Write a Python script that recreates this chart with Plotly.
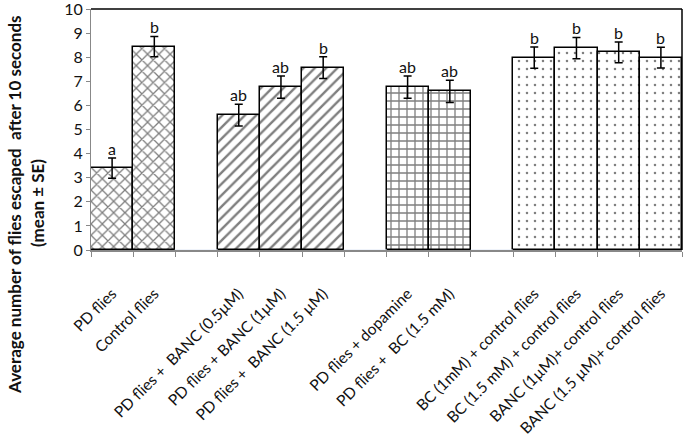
import plotly.graph_objects as go

categories = ["PD flies", "Control flies", "gap1",
              "PD flies +  BANC (0.5µM)", "PD flies + BANC (1µM)", "PD flies +  BANC (1.5 µM)", "gap2",
              "PD flies + dopamine", "PD flies +  BC (1.5 mM)", "gap3",
              "BC (1mM) + control flies", "BC (1.5 mM) + control flies",
              "BANC (1µM)+ control flies", "BANC (1.5 µM)+ control flies"]
tick_labels = ["PD flies", "Control flies", "",
               "PD flies +  BANC (0.5µM)", "PD flies + BANC (1µM)", "PD flies +  BANC (1.5 µM)", "",
               "PD flies + dopamine", "PD flies +  BC (1.5 mM)", "",
               "BC (1mM) + control flies", "BC (1.5 mM) + control flies",
               "BANC (1µM)+ control flies", "BANC (1.5 µM)+ control flies"]

groups = [
    (["PD flies", "Control flies"], [3.4, 8.44], [0.42, 0.42], ["a", "b"], "x"),
    (["PD flies +  BANC (0.5µM)", "PD flies + BANC (1µM)", "PD flies +  BANC (1.5 µM)"],
     [5.6, 6.76, 7.57], [0.45, 0.46, 0.45], ["ab", "ab", "b"], "/"),
    (["PD flies + dopamine", "PD flies +  BC (1.5 mM)"], [6.76, 6.58], [0.46, 0.46], ["ab", "ab"], "+"),
    (["BC (1mM) + control flies", "BC (1.5 mM) + control flies",
      "BANC (1µM)+ control flies", "BANC (1.5 µM)+ control flies"],
     [7.98, 8.38, 8.2, 7.98], [0.44, 0.44, 0.43, 0.43], ["b", "b", "b", "b"], "."),
]

FONT = "Lato"
fig = go.Figure()
for cats, vals, errs, letters, shape in groups:
    fig.add_trace(go.Bar(
        x=cats, y=vals,
        error_y=dict(type="data", array=errs, color="black", thickness=1.5, width=4),
        marker=dict(color="white", line=dict(color="black", width=1.5),
                    pattern=dict(shape=shape, fgcolor="black", bgcolor="white",
                                 size=8 if shape != "." else 8,
                                 solidity=0.3 if shape != "." else 0.08)),
        showlegend=False, hoverinfo="skip",
    ))
    for c, v, e, t in zip(cats, vals, errs, letters):
        fig.add_annotation(x=c, y=v + e, text=t, showarrow=False, yanchor="bottom",
                           yshift=-2, font=dict(family=FONT, size=16, color="#111"))

# ensure gap slots exist
fig.add_trace(go.Bar(x=["gap1", "gap2", "gap3"], y=[0, 0, 0], showlegend=False,
                     marker=dict(color="rgba(0,0,0,0)"), hoverinfo="skip"))

fig.update_layout(
    width=683, height=436,
    margin=dict(l=91, r=1, t=9, b=186),
    paper_bgcolor="white", plot_bgcolor="white",
    bargap=0, barmode="overlay",
    font=dict(family=FONT, color="#111"),
    xaxis=dict(type="category", categoryorder="array", categoryarray=categories,
               tickmode="array", tickvals=categories, ticktext=tick_labels,
               tickangle=-45, tickson="boundaries", ticks="outside", ticklen=5,
               tickcolor="#888", showline=True, linecolor="#888", linewidth=1.5,
               ticklabelstandoff=27, automargin=False,
               tickfont=dict(family=FONT, size=15.5, color="#111"), showgrid=False),
    yaxis=dict(range=[0, 10], dtick=1, showgrid=False, showline=True, linecolor="#888",
               linewidth=1, ticks="outside", ticklen=4, tickcolor="#888", automargin=False,
               ticklabeloverflow="allow",
               tickfont=dict(family=FONT, size=16, color="#111"), zeroline=False),
)

# frame: top and right borders
fig.add_shape(type="line", xref="paper", yref="paper", x0=0, x1=1, y0=1, y1=1,
              line=dict(color="black", width=1.5))
fig.add_shape(type="line", xref="paper", yref="paper", x0=1, x1=1, y0=0, y1=1,
              line=dict(color="black", width=1.5))

fig.add_annotation(text="Average number of flies escaped  after 10 seconds", xref="paper", yref="paper",
                   x=-0.1286, y=0.187, textangle=-90, showarrow=False, xanchor="center", yanchor="middle",
                   font=dict(family=FONT, size=17, color="#111", weight="bold"))
fig.add_annotation(text="(mean ± SE)", xref="paper", yref="paper",
                   x=-0.0914, y=0.195, textangle=-90, showarrow=False, xanchor="center", yanchor="middle",
                   font=dict(family=FONT, size=17, color="#111", weight="bold"))

fig.write_html("out.html", config={"displayModeBar": False},
               post_script="document.body.style.margin='0';document.body.style.overflow='hidden';")
